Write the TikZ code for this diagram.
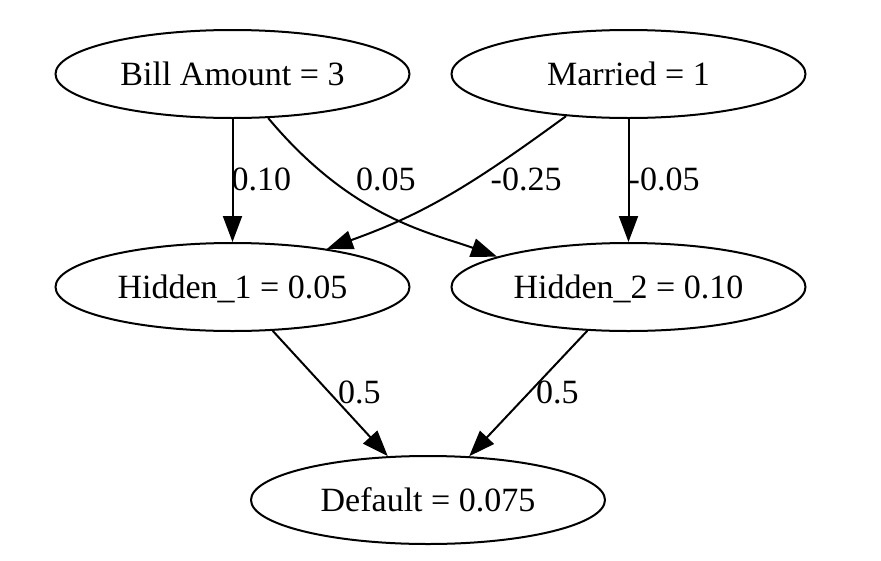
\documentclass[tikz,border=0pt]{standalone}
\usepackage{fontspec}
\setmainfont{Liberation Serif}
\usetikzlibrary{arrows.meta,shapes.geometric}
\tikzset{
  vnode/.style={ellipse, draw=black, line width=2pt, minimum width=354pt, minimum height=88pt,
    inner sep=0pt, text depth=0pt, font=\fontsize{34}{40}\selectfont},
  edge/.style={draw=black, line width=2pt, -{Triangle[length=26pt,width=19pt]}},
  wlabel/.style={anchor=base west, inner sep=0pt, font=\fontsize{34}{40}\selectfont}
}
\begin{document}
\begin{tikzpicture}[x=1pt,y=-1pt]
\useasboundingbox[fill=white] (0,0) rectangle (881,560);
\node[vnode] (bill) at (232.5,74) {Bill Amount = 3};
\node[vnode] (mar) at (628.5,74) {Married = 1};
\node[vnode] (h1) at (232.5,287) {Hidden\_1 = 0.05};
\node[vnode] (h2) at (628.5,287) {Hidden\_2 = 0.10};
\node[vnode] (def) at (428,500) {Default = 0.075};

\draw[edge] (bill) -- (h1);
\draw[edge] (mar) -- (h2);
\draw[edge] (bill.-51) .. controls +(84.6,101) and +(-66,-24) .. (h2.167);
\draw[edge] (mar.214.5) .. controls +(-99,72.5) and +(94.5,-34) .. (h1.22.8);
\draw[edge] (h1) -- (def);
\draw[edge] (h2) -- (def);

\node[wlabel] (l1) at (231.5,190) {0.10};
\node[wlabel] (l2) at (356,190) {0.05};
\node[wlabel] (l3) at (490.5,190) {-0.25};
\node[wlabel] (l4) at (628.5,190) {-0.05};
\node[wlabel] (l5) at (338,403) {0.5};
\node[wlabel] (l6) at (536,403) {0.5};
\end{tikzpicture}
\end{document}
